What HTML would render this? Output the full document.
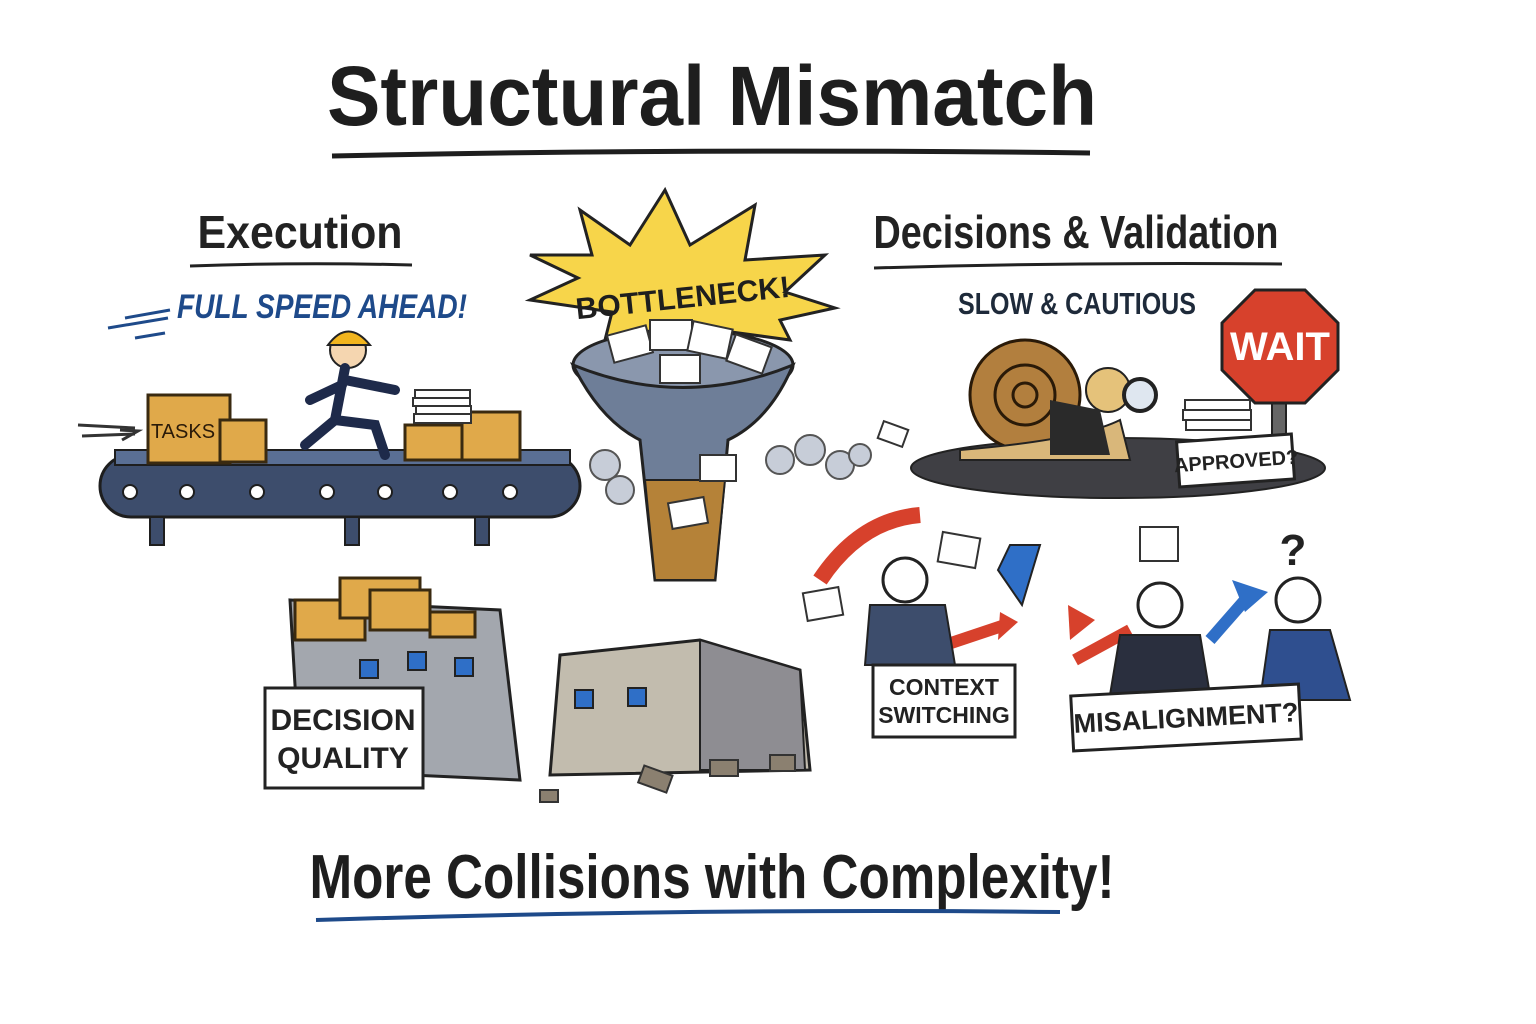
<!DOCTYPE html>
<html><head><meta charset="utf-8"><style>
html,body{margin:0;padding:0;background:#fff}
svg{display:block}
text{font-family:"Liberation Sans",sans-serif}
</style></head><body>
<svg width="1536" height="1024" viewBox="0 0 1536 1024" xmlns="http://www.w3.org/2000/svg">
<rect width="1536" height="1024" fill="#fff"/>
<text x="712" y="125" text-anchor="middle" font-size="84" font-weight="bold" fill="#1e1e1e" textLength="770" lengthAdjust="spacingAndGlyphs">Structural Mismatch</text>
<path d="M332 156 Q700 148 1090 153" stroke="#1e1e1e" stroke-width="5" fill="none"/>
<text x="300" y="248" text-anchor="middle" font-size="46" font-weight="bold" fill="#222" textLength="205" lengthAdjust="spacingAndGlyphs">Execution</text>
<path d="M190 266 Q300 262 412 265" stroke="#222" stroke-width="3" fill="none"/>
<text x="322" y="318" text-anchor="middle" font-size="34" font-weight="bold" font-style="italic" fill="#1e4a8a" textLength="290" lengthAdjust="spacingAndGlyphs">FULL SPEED AHEAD!</text>
<path d="M108 328 L168 318 M125 318 L170 310 M135 338 L165 333" stroke="#1e4a8a" stroke-width="3"/>
<text x="1076" y="248" text-anchor="middle" font-size="46" font-weight="bold" fill="#222" textLength="405" lengthAdjust="spacingAndGlyphs">Decisions &amp; Validation</text>
<path d="M874 268 Q1080 262 1282 264" stroke="#222" stroke-width="3" fill="none"/>
<text x="1077" y="314" text-anchor="middle" font-size="31" font-weight="bold" fill="#1e2a3a" textLength="238" lengthAdjust="spacingAndGlyphs">SLOW &amp; CAUTIOUS</text>
<path d="M78 425 L135 428 M82 436 L135 434" stroke="#333" stroke-width="3"/>
<path d="M120 430 L138 431 L122 440" stroke="#333" stroke-width="3" fill="none"/>
<rect x="100" y="455" width="480" height="62" rx="31" fill="#3d4d6c" stroke="#1e1e1e" stroke-width="3"/>
<rect x="115" y="450" width="455" height="15" fill="#5a6f94" stroke="#1e1e1e" stroke-width="2"/>
<g fill="#fff" stroke="#1e1e1e" stroke-width="2">
<circle cx="130" cy="492" r="7"/><circle cx="187" cy="492" r="7"/><circle cx="257" cy="492" r="7"/><circle cx="327" cy="492" r="7"/><circle cx="385" cy="492" r="7"/><circle cx="450" cy="492" r="7"/><circle cx="510" cy="492" r="7"/>
</g>
<g fill="#3d4d6c" stroke="#1e1e1e" stroke-width="2">
<rect x="150" y="517" width="14" height="28"/><rect x="345" y="517" width="14" height="28"/><rect x="475" y="517" width="14" height="28"/>
</g>
<g stroke="#3a2a10" stroke-width="3" fill="#e0a94a">
<rect x="148" y="395" width="82" height="68"/><rect x="220" y="420" width="46" height="42"/>
<rect x="405" y="425" width="60" height="35"/><rect x="462" y="412" width="58" height="48"/>
</g>
<text x="183" y="438" text-anchor="middle" font-size="20" fill="#2a1a08">TASKS</text>
<g fill="#fff" stroke="#333" stroke-width="2"><rect x="415" y="390" width="55" height="8"/><rect x="413" y="398" width="57" height="8"/><rect x="416" y="406" width="55" height="8"/><rect x="414" y="414" width="57" height="9"/></g>
<circle cx="348" cy="350" r="18" fill="#f5d6b0" stroke="#222" stroke-width="2"/>
<path d="M328 345 Q348 318 370 345 Z" fill="#f2b51e" stroke="#222" stroke-width="2"/>
<path d="M345 368 L335 420 L305 445 M335 420 L375 425 L385 455 M342 385 L310 400 M345 380 L395 390" stroke="#1e2a4a" stroke-width="10" fill="none" stroke-linecap="round"/>
<polygon points="580,210 630,245 665,190 690,245 755,205 745,260 825,255 785,292 835,308 780,320 790,340 680,325 605,340 612,312 530,300 578,278 530,255 592,255" fill="#f7d54a" stroke="#222" stroke-width="3"/>
<text x="683" y="308" text-anchor="middle" font-size="30" font-weight="bold" fill="#1e1e1e" transform="rotate(-6 683 300)">BOTTLENECK!</text>
<ellipse cx="683" cy="365" rx="110" ry="35" fill="#8a97ad" stroke="#222" stroke-width="3"/>
<path d="M573 365 Q600 420 640 440 L655 580 L715 580 L728 440 Q770 420 793 365 Q683 410 573 365 Z" fill="#6e7e98" stroke="#222" stroke-width="3"/>
<path d="M645 480 L725 480 L715 580 L655 580 Z" fill="#b58238" stroke="#222" stroke-width="2"/>
<g fill="#fff" stroke="#333" stroke-width="2">
<rect x="610" y="330" width="40" height="28" transform="rotate(-15 630 344)"/><rect x="650" y="320" width="42" height="30"/><rect x="690" y="325" width="40" height="30" transform="rotate(12 710 340)"/><rect x="730" y="340" width="38" height="28" transform="rotate(20 749 354)"/><rect x="660" y="355" width="40" height="28"/><rect x="700" y="455" width="36" height="26"/><rect x="670" y="500" width="36" height="26" transform="rotate(-10 688 513)"/><rect x="880" y="425" width="26" height="18" transform="rotate(20 893 434)"/>
</g>
<g fill="#c7cdd8" stroke="#555" stroke-width="2">
<circle cx="605" cy="465" r="15"/><circle cx="620" cy="490" r="14"/><circle cx="780" cy="460" r="14"/><circle cx="810" cy="450" r="15"/><circle cx="840" cy="465" r="14"/><circle cx="860" cy="455" r="11"/>
</g>
<ellipse cx="1118" cy="468" rx="207" ry="30" fill="#3f3f44" stroke="#222" stroke-width="2"/>
<circle cx="1025" cy="395" r="55" fill="#b27f3e" stroke="#2a1a08" stroke-width="3"/>
<circle cx="1025" cy="395" r="30" fill="none" stroke="#2a1a08" stroke-width="3"/>
<circle cx="1025" cy="395" r="12" fill="none" stroke="#2a1a08" stroke-width="3"/>
<path d="M960 450 Q1080 440 1120 420 L1130 460 L960 460 Z" fill="#d9b77a" stroke="#222" stroke-width="2"/>
<circle cx="1108" cy="390" r="22" fill="#e5c27a" stroke="#222" stroke-width="2"/>
<circle cx="1140" cy="395" r="16" fill="#dfe7f0" stroke="#222" stroke-width="4"/>
<path d="M1050 400 L1100 410 L1110 455 L1050 455 Z" fill="#2a2a2a"/>
<rect x="1272" y="395" width="14" height="75" fill="#666" stroke="#222" stroke-width="2"/>
<polygon points="1255,290 1305,290 1338,323 1338,370 1305,403 1255,403 1222,370 1222,323" fill="#d7412c" stroke="#222" stroke-width="3"/>
<text x="1280" y="360" text-anchor="middle" font-size="40" font-weight="bold" fill="#fff">WAIT</text>
<g fill="#fff" stroke="#333" stroke-width="2"><rect x="1185" y="400" width="65" height="10"/><rect x="1183" y="410" width="68" height="10"/><rect x="1186" y="420" width="65" height="10"/></g>
<rect x="1178" y="438" width="115" height="45" fill="#fff" stroke="#222" stroke-width="3" transform="rotate(-4 1235 460)"/>
<text x="1236" y="468" text-anchor="middle" font-size="20" font-weight="bold" fill="#222" transform="rotate(-4 1235 460)">APPROVED?</text>
<path d="M290 600 L500 610 L520 780 L300 770 Z" fill="#a3a7ae" stroke="#222" stroke-width="3"/>
<path d="M560 655 L700 640 L800 670 L810 770 L550 775 Z" fill="#c2bcae" stroke="#222" stroke-width="3"/>
<path d="M700 640 L800 670 L805 770 L700 770 Z" fill="#8e8d92" stroke="#222" stroke-width="2"/>
<g fill="#2f6fc7" stroke="#222" stroke-width="2">
<rect x="360" y="660" width="18" height="18"/><rect x="408" y="652" width="18" height="18"/><rect x="455" y="658" width="18" height="18"/><rect x="575" y="690" width="18" height="18"/><rect x="628" y="688" width="18" height="18"/>
</g>
<g fill="#e0a94a" stroke="#3a2a10" stroke-width="3">
<rect x="295" y="600" width="70" height="40"/><rect x="340" y="578" width="80" height="40"/><rect x="370" y="590" width="60" height="40"/><rect x="430" y="612" width="45" height="25"/>
</g>
<rect x="265" y="688" width="158" height="100" fill="#fff" stroke="#222" stroke-width="3"/>
<text x="343" y="730" text-anchor="middle" font-size="30" font-weight="bold" fill="#222">DECISION</text>
<text x="343" y="768" text-anchor="middle" font-size="30" font-weight="bold" fill="#222">QUALITY</text>
<g fill="#8b8070" stroke="#333" stroke-width="2"><rect x="640" y="770" width="30" height="18" transform="rotate(20 655 780)"/><rect x="710" y="760" width="28" height="16"/><rect x="770" y="755" width="25" height="16"/><rect x="540" y="790" width="18" height="12"/></g>
<path d="M820 580 Q860 520 920 515" stroke="#d7412c" stroke-width="16" fill="none"/>
<polygon points="1010,545 1040,545 1022,605 998,570" fill="#2f6fc7" stroke="#222" stroke-width="2"/>
<path d="M930 650 L1005 625" stroke="#d7412c" stroke-width="12"/><polygon points="1000,612 1018,622 998,640" fill="#d7412c"/>
<circle cx="905" cy="580" r="22" fill="#fff" stroke="#222" stroke-width="3"/>
<path d="M870 605 L945 605 L955 665 L865 665 Z" fill="#3d4d6c" stroke="#222" stroke-width="2"/>
<g fill="#fff" stroke="#333" stroke-width="2"><rect x="940" y="535" width="38" height="30" transform="rotate(10 959 550)"/><rect x="805" y="590" width="36" height="28" transform="rotate(-10 823 604)"/><rect x="1140" y="527" width="38" height="34"/></g>
<rect x="873" y="665" width="142" height="72" fill="#fff" stroke="#222" stroke-width="3"/>
<text x="944" y="695" text-anchor="middle" font-size="23" font-weight="bold" fill="#222">CONTEXT</text>
<text x="944" y="723" text-anchor="middle" font-size="23" font-weight="bold" fill="#222">SWITCHING</text>
<path d="M1075 660 L1130 630" stroke="#d7412c" stroke-width="12"/><polygon points="1068,605 1095,620 1070,640" fill="#d7412c"/>
<path d="M1210 640 L1245 600" stroke="#2f6fc7" stroke-width="12"/><polygon points="1232,580 1268,592 1245,612" fill="#2f6fc7"/>
<circle cx="1160" cy="605" r="22" fill="#fff" stroke="#222" stroke-width="3"/>
<path d="M1120 635 L1200 635 L1210 695 L1110 695 Z" fill="#2a2f3e" stroke="#222" stroke-width="2"/>
<circle cx="1298" cy="600" r="22" fill="#fff" stroke="#222" stroke-width="3"/>
<path d="M1270 630 L1330 630 L1350 700 L1260 700 Z" fill="#2f4f8f" stroke="#222" stroke-width="2"/>
<text x="1293" y="565" text-anchor="middle" font-size="44" font-weight="bold" fill="#222">?</text>
<rect x="1072" y="690" width="228" height="55" fill="#fff" stroke="#222" stroke-width="3" transform="rotate(-3 1186 717)"/>
<text x="1186" y="727" text-anchor="middle" font-size="27" font-weight="bold" fill="#222" transform="rotate(-3 1186 717)">MISALIGNMENT?</text>
<text x="712" y="898" text-anchor="middle" font-size="62" font-weight="bold" fill="#1e1e1e" textLength="805" lengthAdjust="spacingAndGlyphs">More Collisions with Complexity!</text>
<path d="M316 920 Q700 908 1060 912" stroke="#1e4a8a" stroke-width="4" fill="none"/>
</svg>
</body></html>
